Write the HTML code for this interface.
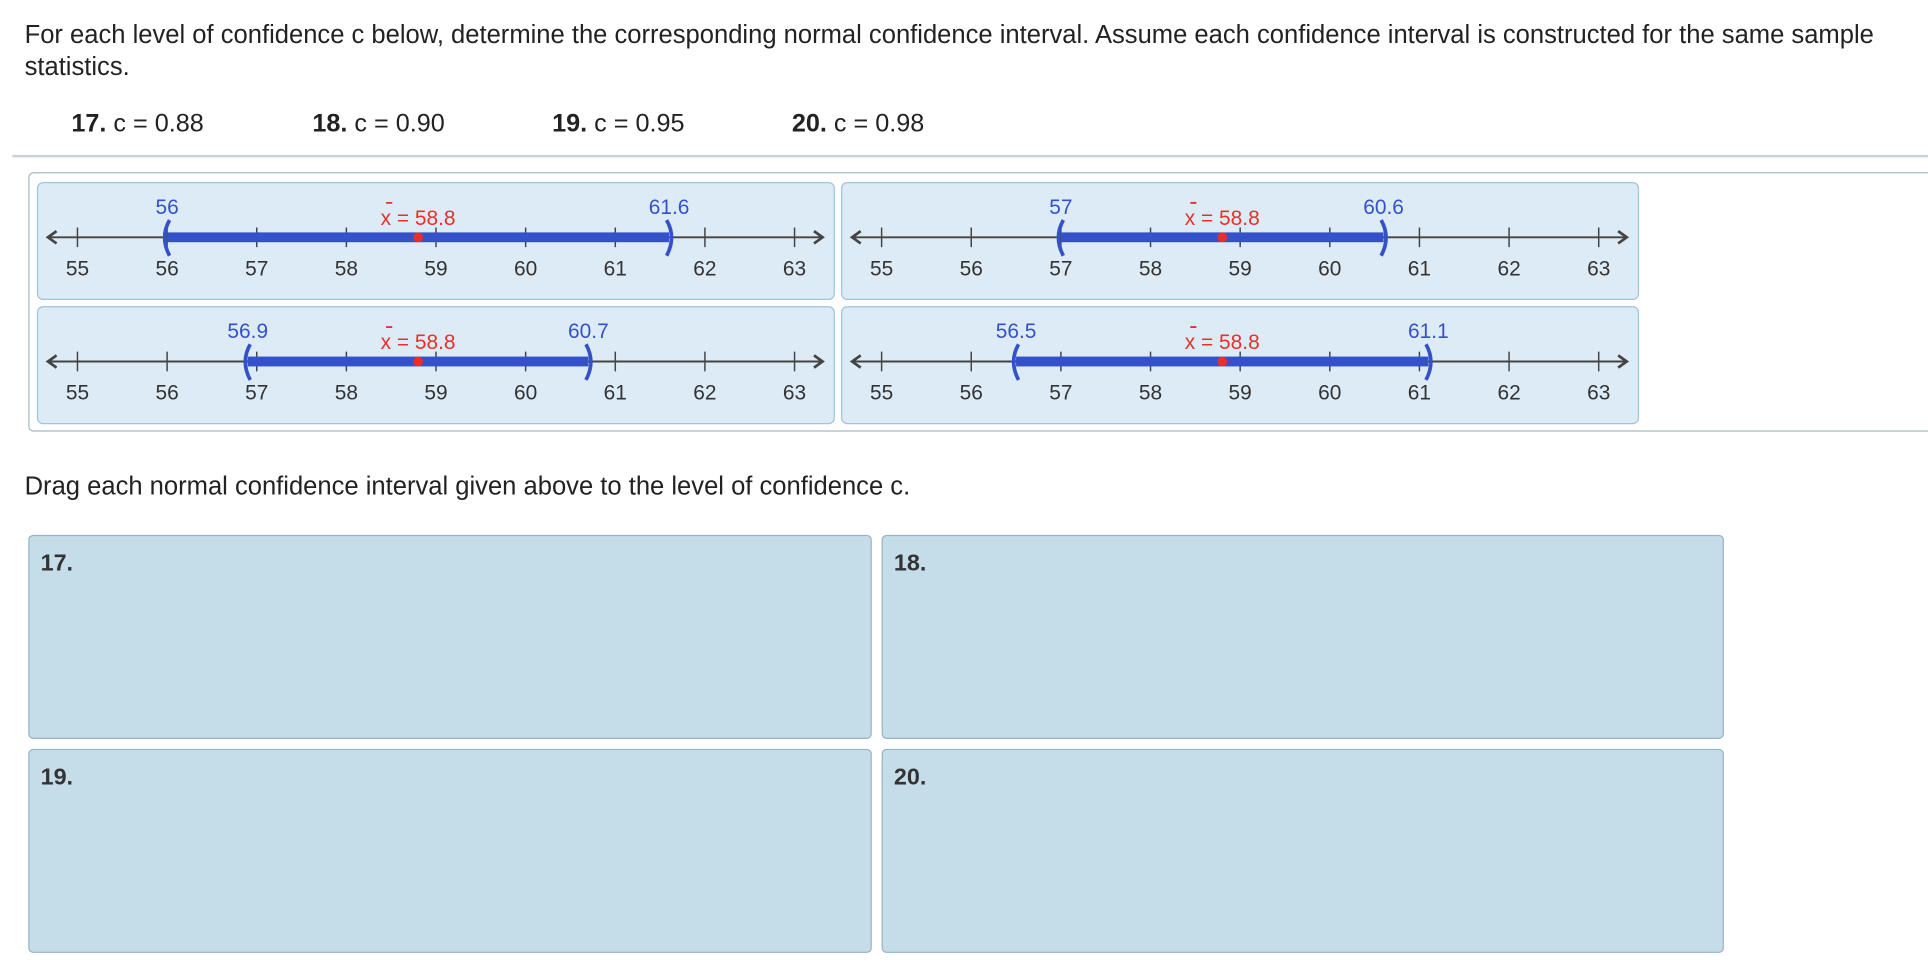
<!DOCTYPE html>
<html><head><meta charset="utf-8"><style>
html,body{margin:0;padding:0;background:#fff;width:1928px;height:978px;overflow:hidden}
#wrap{position:absolute;left:0;top:0;width:1568px;height:795px;transform:scale(1.22959);transform-origin:0 0;font-family:"Liberation Sans",Arial,sans-serif;color:#222}
.abs{position:absolute}
.intro{left:20px;top:16px;font-size:20.8px;line-height:26px;width:1540px}
.lvl{top:89px;font-size:20.5px}
.drop{position:absolute;background:#c5dde9;border:1.5px solid #94b4c4;border-radius:4px;box-sizing:border-box}
.drop b{position:absolute;left:9px;top:12px;font-size:19px;color:#333}
.panel{position:absolute;width:649px;height:96px;background:#ddebf6;border:1.5px solid #9cc6db;border-radius:5px;box-sizing:border-box}
</style></head><body>
<div id="wrap">
<div class="abs intro">For each level of confidence c below, determine the corresponding normal confidence interval. Assume each confidence interval is constructed for the same sample statistics.</div>
<div class="abs lvl" style="left:58px"><b>17.</b> c = 0.88</div>
<div class="abs lvl" style="left:254px"><b>18.</b> c = 0.90</div>
<div class="abs lvl" style="left:449px"><b>19.</b> c = 0.95</div>
<div class="abs lvl" style="left:644px"><b>20.</b> c = 0.98</div>
<div class="abs" style="left:10px;top:126px;width:1558px;height:1.5px;background:#ccd3d8"></div>
<div class="abs" style="left:23px;top:140px;width:1560px;height:211px;border:1.5px solid #a9bac4;border-radius:4px;box-sizing:border-box"></div>
<div id="panels"></div>
<div class="abs" style="left:20px;top:384px;font-size:20.8px">Drag each normal confidence interval given above to the level of confidence c.</div>
<div class="drop" style="left:23px;top:435px;width:686px;height:166px"><b>17.</b></div>
<div class="drop" style="left:717px;top:435px;width:685px;height:166px"><b>18.</b></div>
<div class="drop" style="left:23px;top:609px;width:686px;height:166px"><b>19.</b></div>
<div class="drop" style="left:717px;top:609px;width:685px;height:166px"><b>20.</b></div>
</div>
<script>
const ticks=[55,56,57,58,59,60,61,62,63];
const lowers=[56,57,56.9,56.5];
const uppers=[61.6,60.6,60.7,61.1];
const means=[58.8,58.8,58.8,58.8];
const panelPos=[[30,148],[684,148],[30,249],[684,249]];
const NS='http://www.w3.org/2000/svg';
function xs(v){return 33+(v-55)*72.9;}
function mk(t,a,p){const e=document.createElementNS(NS,t);for(const k in a)e.setAttribute(k,a[k]);p.appendChild(e);return e;}
const host=document.getElementById('panels');
lowers.forEach((lo,i)=>{
  const d=document.createElement('div');d.className='panel';
  d.style.left=panelPos[i][0]+'px';d.style.top=panelPos[i][1]+'px';
  
  
  host.appendChild(d);
  const s=document.createElementNS(NS,'svg');s.setAttribute('width','649');s.setAttribute('height','96');
  s.style.position='absolute';s.style.left='-1.5px';s.style.top='-1.5px';d.appendChild(s);
  const y=45;
  mk('line',{x1:10,y1:y,x2:638,y2:y,stroke:'#444','stroke-width':1.6},s);
  mk('path',{d:`M16 ${y-5} L9 ${y} L16 ${y+5}`,fill:'none',stroke:'#444','stroke-width':2.2},s);
  mk('path',{d:`M632 ${y-5} L639 ${y} L632 ${y+5}`,fill:'none',stroke:'#444','stroke-width':2.2},s);
  ticks.forEach(t=>{
    mk('line',{x1:xs(t),y1:y-8,x2:xs(t),y2:y+8,stroke:'#444','stroke-width':1.2},s);
    const tx=mk('text',{x:xs(t),y:y+31,'text-anchor':'middle','font-size':17,fill:'#333','font-family':'Liberation Sans, sans-serif'},s);
    tx.textContent=t;
    
    
  });
  const hi=uppers[i];
  const bar=mk('rect',{x:xs(lo),y:y-4,width:xs(hi)-xs(lo),height:8,fill:'#3451c9'},s);
  
  
  mk('path',{d:`M${xs(lo)+2} ${y-14} Q${xs(lo)-6} ${y} ${xs(lo)+2} ${y+15}`,fill:'none',stroke:'#3451c9','stroke-width':3},s);
  mk('path',{d:`M${xs(hi)-2} ${y-14} Q${xs(hi)+6} ${y} ${xs(hi)-2} ${y+15}`,fill:'none',stroke:'#3451c9','stroke-width':3},s);
  const dot=mk('circle',{cx:xs(means[i]),cy:y,r:4,fill:'#e8302a'},s);
  
  
  const l1=mk('text',{x:xs(lo),y:y-19,'text-anchor':'middle','font-size':17,fill:'#3451c9','font-family':'Liberation Sans, sans-serif'},s);l1.textContent=lo;
  
  
  const l2=mk('text',{x:xs(hi),y:y-19,'text-anchor':'middle','font-size':17,fill:'#3451c9','font-family':'Liberation Sans, sans-serif'},s);l2.textContent=hi;
  
  
  const xm=xs(means[i]);
  mk('line',{x1:xm-26,y1:y-28,x2:xm-21,y2:y-28,stroke:'#e8302a','stroke-width':1.5},s);
  const m=mk('text',{x:xm,y:y-10,'text-anchor':'middle','font-size':17,fill:'#e8302a','font-family':'Liberation Sans, sans-serif'},s);m.textContent='x = '+means[i];
  
  
});
</script>
</body></html>
